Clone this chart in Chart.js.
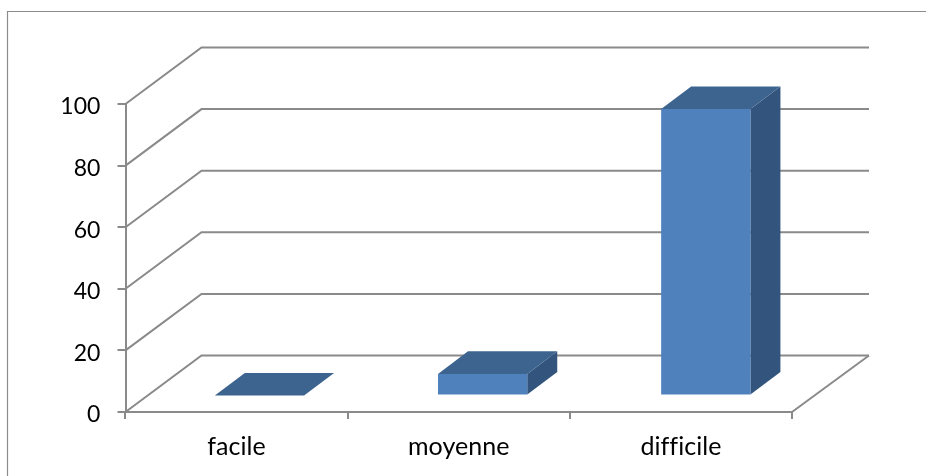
<!DOCTYPE html>
<html>
<head>
<meta charset="utf-8">
<style>
    html, body { margin: 0; padding: 0; background: #fff; }
    #wrap { position: relative; width: 926px; height: 476px; }
</style>
</head>
<body>
<div id="wrap"><canvas id="graf"></canvas></div>
<script src="https://cdn.jsdelivr.net/npm/chart.js@4"></script>
<script>
const categories = ['facile', 'moyenne', 'difficile'];
const values = [0, 7, 93];
const yTicks = [0, 20, 40, 60, 80, 100];

const gridColor = '#8a8a8a';
const frontColor = '#4f81bd';
const topColor = '#3d648f';
const sideColor = '#32547d';

// depth of the 3D box and of the bars, in pixels
const wallDx = 76;
const wallDy = 56.5;
const barShiftX = 21.8;
const barStretchX = 1.0045; // the floor is a little wider than the front axis
const barShiftY = 16.5;
const barDx = 30;
const barDy = 22.6;

function poly(ctx, pts, color) {
    ctx.fillStyle = color;
    ctx.beginPath();
    pts.forEach((p, i) => i ? ctx.lineTo(p[0], p[1]) : ctx.moveTo(p[0], p[1]));
    ctx.closePath();
    ctx.fill();
}

const box3d = {
    id: 'box3d',
    beforeDraw(chart) {
        // outer frame, open at right and bottom like the picture
        const ctx = chart.ctx;
        ctx.letterSpacing = '0.05px'; // keeps "ffi" as separate letters
        ctx.save();
        ctx.strokeStyle = '#8c8c8c';
        ctx.lineWidth = 1.2;
        ctx.beginPath();
        ctx.moveTo(7.5, 476);
        ctx.lineTo(7.5, 11.5);
        ctx.lineTo(926, 11.5);
        ctx.stroke();
        ctx.restore();
    },
    beforeDatasetsDraw(chart) {
        const ctx = chart.ctx;
        const { left, right } = chart.chartArea;
        const y = chart.scales.y;

        ctx.save();
        ctx.strokeStyle = gridColor;
        ctx.lineWidth = 2;
        y.ticks.forEach(t => {
            const py = y.getPixelForValue(t.value);
            ctx.beginPath();
            ctx.moveTo(left, py);
            ctx.lineTo(left + wallDx, py - wallDy);
            ctx.lineTo(right + wallDx + 1, py - wallDy);
            ctx.stroke();
        });
        const py0 = y.getPixelForValue(0);
        ctx.beginPath();
        ctx.moveTo(right, py0);
        ctx.lineTo(right + wallDx + 1, py0 - wallDy);
        ctx.stroke();

        // side and top of each bar, taken from the bar elements
        chart.getDatasetMeta(0).data.forEach(bar => {
            const x1 = (bar.x - bar.width / 2) * barStretchX + barShiftX;
            const x2 = (bar.x + bar.width / 2) * barStretchX + barShiftX;
            const top = bar.y - barShiftY;
            const bottom = bar.base - barShiftY;
            poly(ctx, [[x2, top], [x2 + barDx, top - barDy], [x2 + barDx, bottom - barDy], [x2, bottom]], sideColor);
            poly(ctx, [[x1, top], [x1 + barDx, top - barDy], [x2 + barDx, top - barDy], [x2, top]], topColor);
        });

        // front faces are drawn by Chart.js, moved onto the floor
        ctx.transform(barStretchX, 0, 0, 1, barShiftX, -barShiftY);
    },
    afterDatasetsDraw(chart) {
        chart.ctx.restore();
    }
};

new Chart(document.getElementById('graf').getContext('2d'), {
    type: 'bar',
    data: {
        labels: categories,
        datasets: [{
            data: values,
            backgroundColor: frontColor,
            borderWidth: 0,
            barPercentage: 1,
            categoryPercentage: 0.4
        }]
    },
    options: {
        responsive: true,
        maintainAspectRatio: false,
        animation: false,
        layout: {
            padding: { top: 104, right: 134, bottom: 0, left: 0 }
        },
        plugins: {
            legend: { display: false },
            tooltip: { enabled: false }
        },
        scales: {
            x: {
                afterFit: scale => { scale.height = 64; },
                border: { color: gridColor, width: 2 },
                grid: {
                    offset: true,
                    drawOnChartArea: false,
                    color: gridColor,
                    lineWidth: 2,
                    tickLength: 7
                },
                ticks: {
                    color: '#000',
                    padding: 13,
                    maxRotation: 0,
                    font: { family: 'Lato', size: 25 }
                }
            },
            y: {
                min: 0,
                max: 100,
                afterFit: scale => { scale.width = 125.5; },
                afterBuildTicks: scale => { scale.ticks = yTicks.map(v => ({ value: v })); },
                border: { color: gridColor, width: 2 },
                grid: {
                    drawOnChartArea: false,
                    color: gridColor,
                    lineWidth: 2,
                    tickLength: 8
                },
                ticks: {
                    color: '#000',
                    padding: 17,
                    labelOffset: 3,
                    font: { family: 'Lato', size: 23 }
                }
            }
        }
    },
    plugins: [box3d]
});
</script>
</body>
</html>
